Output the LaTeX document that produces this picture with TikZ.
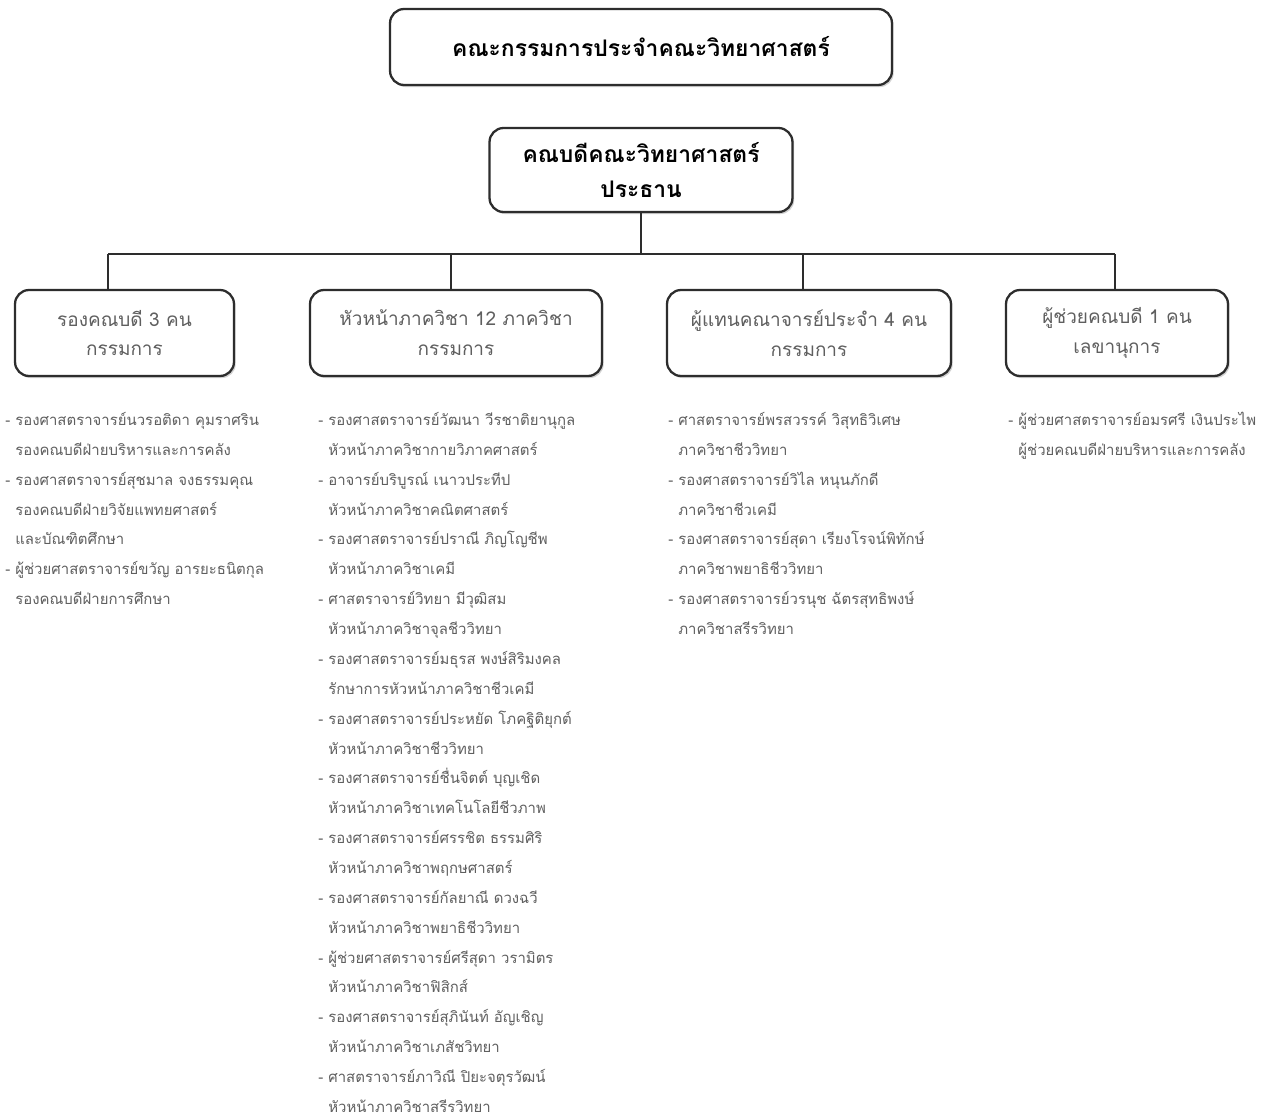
\documentclass[tikz,border=0pt]{standalone}
\usepackage{fontspec}
\newfontfamily\thaifont[Script=Thai]{Loma}
\usetikzlibrary{shadows}

\definecolor{boxline}{RGB}{45,45,45}
\definecolor{listgray}{RGB}{95,95,95}

\tikzset{
  headbox/.style={draw=boxline, line width=1.3pt, rounded corners=8pt, fill=white,
    align=center, font=\thaifont\bfseries\fontsize{13}{20}\selectfont,
    drop shadow={shadow xshift=1pt, shadow yshift=-1.2pt, opacity=0.35}},
  groupbox/.style={draw=boxline, line width=1.3pt, rounded corners=8pt, fill=white,
    align=center, text=listgray, font=\thaifont\fontsize{10.8}{17}\selectfont,
    drop shadow={shadow xshift=1pt, shadow yshift=-1.2pt, opacity=0.35}},
  namelist/.style={anchor=north west, align=left, inner sep=0pt, text=listgray,
    font=\thaifont\fontsize{8.5}{17}\selectfont},
  link/.style={draw=boxline, line width=1.1pt}
}

\begin{document}
\begin{tikzpicture}[x=0.02cm, y=-0.02cm]
\useasboundingbox[fill=white] (0,0) rectangle (1275,1119);

% top of the chart
\node[headbox, minimum width=10.04cm, minimum height=1.52cm] (board) at (641,47) {คณะกรรมการประจำคณะวิทยาศาสตร์};
\node[headbox, minimum width=6.06cm, minimum height=1.68cm] (dean) at (641,170) {คณบดีคณะวิทยาศาสตร์\\ประธาน};

% the four groups
\node[groupbox, minimum width=4.38cm, minimum height=1.72cm] (vice) at (124.5,333) {รองคณบดี 3 คน\\กรรมการ};
\node[groupbox, minimum width=5.84cm, minimum height=1.72cm] (heads) at (456,333) {หัวหน้าภาควิชา 12 ภาควิชา\\กรรมการ};
\node[groupbox, minimum width=5.68cm, minimum height=1.72cm] (staff) at (809,333) {ผู้แทนคณาจารย์ประจำ 4 คน\\กรรมการ};
\node[groupbox, minimum width=4.44cm, minimum height=1.72cm] (assist) at (1117,333) {ผู้ช่วยคณบดี 1 คน\\เลขานุการ};

\coordinate (bus) at (641,254);
\coordinate (bus1) at (108,254);
\coordinate (bus2) at (451,254);
\coordinate (bus3) at (803,254);
\coordinate (bus4) at (1115,254);

\draw[link](dean) -- (bus);
\draw[link](bus1) -- (bus4);
\draw[link](bus1) -- (bus1 |- vice.north);
\draw[link](bus2) -- (bus2 |- heads.north);
\draw[link](bus3) -- (bus3 |- staff.north);
\draw[link](bus4) -- (bus4 |- assist.north);

% names under each group
\node[namelist] (vicelist) at (5,412) {- รองศาสตราจารย์นวรอติดา คุมราศริน\\
\phantom{- }รองคณบดีฝ่ายบริหารและการคลัง\\
- รองศาสตราจารย์สุชมาล จงธรรมคุณ\\
\phantom{- }รองคณบดีฝ่ายวิจัยแพทยศาสตร์\\
\phantom{- }และบัณฑิตศึกษา\\
- ผู้ช่วยศาสตราจารย์ขวัญ อารยะธนิตกุล\\
\phantom{- }รองคณบดีฝ่ายการศึกษา};

\node[namelist] (headslist) at (318,412) {- รองศาสตราจารย์วัฒนา วีรชาติยานุกูล\\
\phantom{- }หัวหน้าภาควิชากายวิภาคศาสตร์\\
- อาจารย์บริบูรณ์ เนาวประทีป\\
\phantom{- }หัวหน้าภาควิชาคณิตศาสตร์\\
- รองศาสตราจารย์ปราณี ภิญโญชีพ\\
\phantom{- }หัวหน้าภาควิชาเคมี\\
- ศาสตราจารย์วิทยา มีวุฒิสม\\
\phantom{- }หัวหน้าภาควิชาจุลชีววิทยา\\
- รองศาสตราจารย์มธุรส พงษ์สิริมงคล\\
\phantom{- }รักษาการหัวหน้าภาควิชาชีวเคมี\\
- รองศาสตราจารย์ประหยัด โภคฐิติยุกต์\\
\phantom{- }หัวหน้าภาควิชาชีววิทยา\\
- รองศาสตราจารย์ชื่นจิตต์ บุญเชิด\\
\phantom{- }หัวหน้าภาควิชาเทคโนโลยีชีวภาพ\\
- รองศาสตราจารย์ศรรชิต ธรรมศิริ\\
\phantom{- }หัวหน้าภาควิชาพฤกษศาสตร์\\
- รองศาสตราจารย์กัลยาณี ดวงฉวี\\
\phantom{- }หัวหน้าภาควิชาพยาธิชีววิทยา\\
- ผู้ช่วยศาสตราจารย์ศรีสุดา วรามิตร\\
\phantom{- }หัวหน้าภาควิชาฟิสิกส์\\
- รองศาสตราจารย์สุภินันท์ อัญเชิญ\\
\phantom{- }หัวหน้าภาควิชาเภสัชวิทยา\\
- ศาสตราจารย์ภาวิณี ปิยะจตุรวัฒน์\\
\phantom{- }หัวหน้าภาควิชาสรีรวิทยา};

\node[namelist] (stafflist) at (668,412) {- ศาสตราจารย์พรสวรรค์ วิสุทธิวิเศษ\\
\phantom{- }ภาควิชาชีววิทยา\\
- รองศาสตราจารย์วิไล หนุนภักดี\\
\phantom{- }ภาควิชาชีวเคมี\\
- รองศาสตราจารย์สุดา เรียงโรจน์พิทักษ์\\
\phantom{- }ภาควิชาพยาธิชีววิทยา\\
- รองศาสตราจารย์วรนุช ฉัตรสุทธิพงษ์\\
\phantom{- }ภาควิชาสรีรวิทยา};

\node[namelist] (assistlist) at (1008,412) {- ผู้ช่วยศาสตราจารย์อมรศรี เงินประไพ\\
\phantom{- }ผู้ช่วยคณบดีฝ่ายบริหารและการคลัง};

\end{tikzpicture}
\end{document}
